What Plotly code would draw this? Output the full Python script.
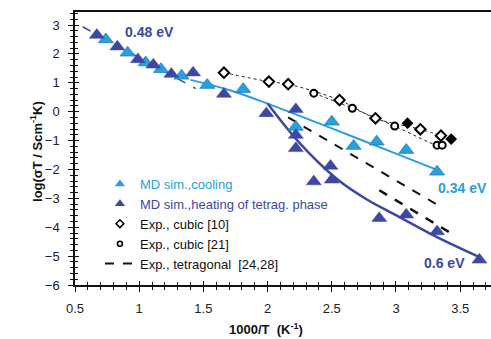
import plotly.graph_objects as go

# ---- data ----
heat_x = [0.67, 0.83, 0.99, 1.11, 1.25, 1.42, 1.66, 1.99, 2.22, 2.22, 2.22, 2.36, 2.49, 2.50, 2.87, 3.08, 3.32, 3.65]
heat_y = [2.65, 2.25, 1.81, 1.62, 1.30, 1.35, 0.61, -0.06, 0.08, -0.81, -1.27, -2.42, -1.88, -2.36, -3.69, -3.57, -4.15, -5.13]

cool_x = [0.74, 0.91, 1.05, 1.17, 1.33, 1.53, 1.81, 2.22, 2.50, 2.67, 2.85, 3.08, 3.32]
cool_y = [2.50, 2.04, 1.70, 1.47, 1.24, 0.92, 0.78, -0.53, -0.35, -1.19, -1.04, -1.33, -2.08]

fit048_x = [0.56, 1.44]
fit048_y = [2.94, 0.80]
coolfit_x = [1.40, 1.70, 2.00, 2.50, 3.00, 3.33]
coolfit_y = [1.10, 0.75, 0.28, -0.58, -1.45, -2.03]
heatfit_x = [2.00, 2.25, 2.54, 2.77, 3.00, 3.30, 3.667]
heatfit_y = [0.28, -1.09, -2.33, -3.03, -3.58, -4.30, -5.07]

tet1_x = [2.16, 3.36]
tet1_y = [-0.20, -3.32]
tet2_x = [2.87, 3.43]
tet2_y = [-2.72, -4.21]

cub10_x = [1.66, 2.01, 2.16, 2.56, 2.84, 3.19, 3.35]
cub10_y = [1.35, 1.04, 0.95, 0.40, -0.23, -0.61, -0.83]
cub21_x = [2.36, 2.66, 2.99, 3.32, 3.36]
cub21_y = [0.64, 0.12, -0.50, -1.16, -1.16]
filled_x = [3.09, 3.43]
filled_y = [-0.40, -0.95]

LB = "#2aa0da"
DB = "#3c48a4"
FONT = "Liberation Sans, Arial, sans-serif"

fig = go.Figure()

# lines (no legend)
fig.add_trace(go.Scatter(x=fit048_x, y=fit048_y, mode="lines", line=dict(color=DB, width=1.5, dash="dash"), showlegend=False))
fig.add_trace(go.Scatter(x=coolfit_x, y=coolfit_y, mode="lines", line=dict(color=LB, width=2, shape="spline"), showlegend=False))
fig.add_trace(go.Scatter(x=heatfit_x, y=heatfit_y, mode="lines", line=dict(color=DB, width=2.5, shape="spline"), showlegend=False))
fig.add_trace(go.Scatter(x=cub10_x, y=cub10_y, mode="lines", line=dict(color="#222", width=1, dash="dot", shape="spline"), showlegend=False))
fig.add_trace(go.Scatter(x=cub21_x, y=cub21_y, mode="lines", line=dict(color="#222", width=1, dash="dot", shape="spline"), showlegend=False))
fig.add_trace(go.Scatter(x=tet2_x, y=tet2_y, mode="lines", line=dict(color="#111", width=2.5, dash="dash"), showlegend=False))
fig.add_trace(go.Scatter(x=tet1_x, y=tet1_y, mode="lines", line=dict(color="#111", width=2, dash="dash"), showlegend=False))

# data markers
fig.add_trace(go.Scatter(x=cool_x, y=cool_y, mode="markers", showlegend=False,
                         marker=dict(symbol="triangle-up", size=13, color=LB, line=dict(color="#1f7fc0", width=0.8))))
fig.add_trace(go.Scatter(x=heat_x, y=heat_y, mode="markers", showlegend=False,
                         marker=dict(symbol="triangle-up", size=13, color=DB, line=dict(color=DB, width=0.5))))
fig.add_trace(go.Scatter(x=cub10_x, y=cub10_y, mode="markers", showlegend=False,
                         marker=dict(symbol="diamond", size=8, color="white", line=dict(color="black", width=2))))
fig.add_trace(go.Scatter(x=cub21_x, y=cub21_y, mode="markers", showlegend=False,
                         marker=dict(symbol="circle", size=7, color="white", line=dict(color="black", width=2))))
fig.add_trace(go.Scatter(x=filled_x, y=filled_y, mode="markers", showlegend=False,
                         marker=dict(symbol="diamond", size=9, color="black")))

# legend-only entries (smaller symbols, as in the reference legend)
fig.add_trace(go.Scatter(x=[None], y=[None], mode="markers",
                         marker=dict(symbol="triangle-up", size=9, color=LB),
                         name='<span style="color:%s">MD sim.,cooling</span>' % LB))
fig.add_trace(go.Scatter(x=[None], y=[None], mode="markers",
                         marker=dict(symbol="triangle-up", size=9, color=DB),
                         name='<span style="color:%s">MD sim.,heating of tetrag. phase</span>' % DB))
fig.add_trace(go.Scatter(x=[None], y=[None], mode="markers",
                         marker=dict(symbol="diamond", size=6, color="white", line=dict(color="black", width=1.5)),
                         name="Exp., cubic [10]"))
fig.add_trace(go.Scatter(x=[None], y=[None], mode="markers",
                         marker=dict(symbol="circle", size=5, color="white", line=dict(color="black", width=1.5)),
                         name="Exp., cubic [21]"))
fig.add_trace(go.Scatter(x=[None], y=[None], mode="lines", line=dict(color="#111", width=2, dash="dash"),
                         name="Exp., tetragonal  [24,28]"))

# annotations
fig.add_annotation(x=1.08, y=2.76, text="<b>0.48 eV</b>", showarrow=False, font=dict(family=FONT, size=14, color=DB))
fig.add_annotation(x=3.52, y=-2.64, text="<b>0.34 eV</b>", showarrow=False, font=dict(family=FONT, size=14, color=LB))
fig.add_annotation(x=3.38, y=-5.24, text="<b>0.6 eV</b>", showarrow=False, font=dict(family=FONT, size=14, color=DB))
fig.add_annotation(xref="paper", yref="paper", x=0.46, y=-0.161, text="<b>1000/T  (K<sup>-1</sup>)</b>",
                   showarrow=False, xanchor="center", yanchor="middle",
                   font=dict(family=FONT, size=13, color="#111"))
fig.add_annotation(xref="paper", yref="paper", x=-0.092, y=0.49, text="<b>log(σT / Scm<sup>-1</sup>K)</b>",
                   showarrow=False, textangle=-90, xanchor="center", yanchor="middle",
                   font=dict(family=FONT, size=13, color="#111"))

axcommon = dict(showgrid=False, zeroline=False, showline=True, linecolor="#111", linewidth=1.5,
                ticks="outside", ticklen=5, tickwidth=1.2, tickcolor="#111",
                tickfont=dict(family=FONT, size=13, color="#222"))
fig.update_layout(
    width=491, height=339,
    margin=dict(l=75, r=0, t=12, b=54),
    paper_bgcolor="white", plot_bgcolor="white",
    xaxis=dict(range=[0.5, 3.74], dtick=0.5, tick0=0.5, mirror=True, ticklabelstandoff=6,
               minor=dict(dtick=0.1, ticks="outside", ticklen=3, tickcolor="#111"), **axcommon),
    yaxis=dict(range=[-6, 3.45], dtick=1, tick0=0, ticklabelstandoff=6,
               minor=dict(dtick=0.2, ticks="outside", ticklen=3, tickcolor="#111"), **axcommon),
    xaxis2=dict(overlaying="x", range=[0.5, 3.74], dtick=0.5, tick0=0.5, showticklabels=False, showgrid=False,
                zeroline=False, ticks="inside", ticklen=4, tickcolor="#111", side="bottom",
                minor=dict(dtick=0.1, ticks="inside", ticklen=3, tickcolor="#111")),
    yaxis2=dict(overlaying="y", range=[-6, 3.45], dtick=1, tick0=0, showticklabels=False, showgrid=False,
                zeroline=False, ticks="inside", ticklen=4, tickcolor="#111", side="left",
                minor=dict(dtick=0.2, ticks="inside", ticklen=3, tickcolor="#111")),
    legend=dict(x=0.06, y=0.425, xanchor="left", yanchor="top", bgcolor="rgba(0,0,0,0)",
                font=dict(family=FONT, size=13, color="#111"), tracegroupgap=0, itemwidth=30),
    font=dict(family=FONT),
)
fig.add_trace(go.Scatter(x=[None], y=[None], xaxis="x2", yaxis="y2", showlegend=False, hoverinfo="skip"))

fig.write_html("out.html")
